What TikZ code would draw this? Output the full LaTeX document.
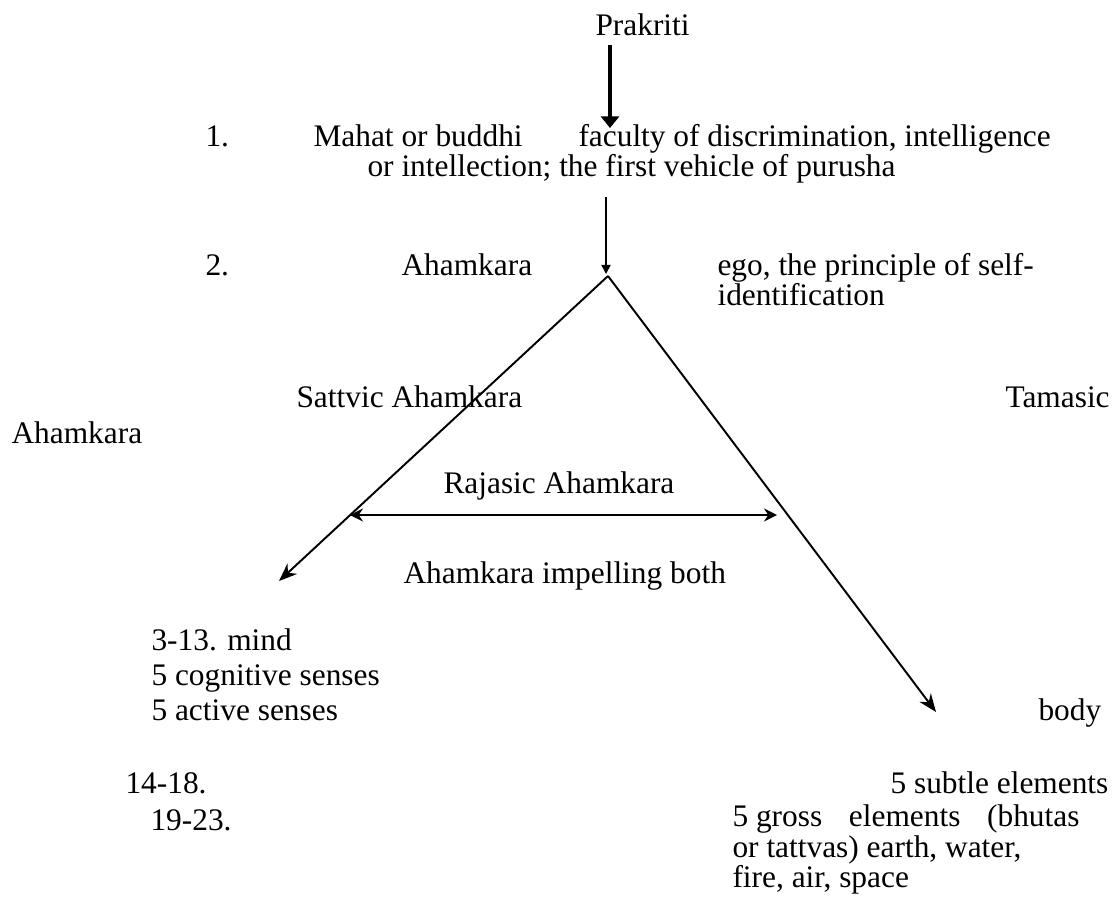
\documentclass[tikz,border=0pt]{standalone}
\usepackage{fontspec}
\setmainfont{Liberation Serif}
\usetikzlibrary{arrows.meta,positioning}

\tikzset{
  txt/.style={anchor=base west, inner sep=0pt, font=\fontsize{12.15}{14}\selectfont},
  thickarrow/.style={line width=1.2pt, -{Triangle[length=4.5pt,width=7pt]}},
  thinarrow/.style={line width=0.6pt, -{Triangle[length=3.5pt,width=3.5pt]}},
  branch/.style={line width=0.75pt, -{Stealth[length=7pt,width=5.5pt]}},
  bothways/.style={line width=0.9pt, {Stealth[length=5pt,width=5pt]}-{Stealth[length=5pt,width=5pt]}}
}

\begin{document}
\begin{tikzpicture}[x=0.01361cm, y=-0.01361cm]
\useasboundingbox (0,0) rectangle (1120,911);

% top of the chain
\node[txt] (prakriti) at (595,35) {Prakriti};
\node[txt] (n1) at (205,146) {1.};
\node[txt] (mahat) at (313,146) {Mahat or buddhi};
\node[txt] (faculty) at (578,146) {faculty of discrimination, intelligence};
\node[txt] (intell) at (367,176) {or intellection; the first vehicle of purusha};
\node[txt] (n2) at (205,275) {2.};
\node[txt] (aham) at (401,275) {Ahamkara};
\node[txt] (ego) at (717,275) {ego, the principle of self-};
\node[txt] (ident) at (717,305) {identification};

% the three gunas
\node[txt] (sattvic) at (296,407) {Sattvic Ahamkara};
\node[txt] (tamasic) at (1005,407) {Tamasic};
\node[txt] (aham2) at (11,443) {Ahamkara};
\node[txt] (rajasic) at (443,493) {Rajasic Ahamkara};
\node[txt] (impel) at (403,583) {Ahamkara impelling both};

% what comes out
\node[txt] (mind) at (151,650) {3-13. mind};
\node[txt] (cog) at (151,685) {5 cognitive senses};
\node[txt] (act) at (151,720) {5 active senses};
\node[txt] (body) at (1038,720) {body};
\node[txt] (n14) at (125,793) {14-18.};
\node[txt] (subtle) at (890,793) {5 subtle elements};
\node[txt] (n19) at (150,830) {19-23.};
\node[txt] (gross) at (732,826) {5 gross\hspace{0.6em} elements\hspace{0.6em} (bhutas};
\node[txt] (tattvas) at (732,857) {or tattvas) earth, water,};
\node[txt] (fire) at (732,887) {fire, air, space};

\coordinate (p1) at (610,45);
\coordinate (p2) at (610,128);
\coordinate (b1) at (606,197);
\coordinate (b2) at (606,274);
\coordinate (apex) at (608,276);
\coordinate (left tip) at (279,581);
\coordinate (right tip) at (936,712);
\coordinate (rl) at (350,515);
\coordinate (rr) at (777,515);

\draw[thickarrow] (p1) -- (p2);
\draw[thinarrow] (b1) -- (b2);
\draw[branch] (apex) -- (left tip);
\draw[branch] (apex) -- (right tip);
\draw[bothways] (rl) -- (rr);
\end{tikzpicture}
\end{document}
